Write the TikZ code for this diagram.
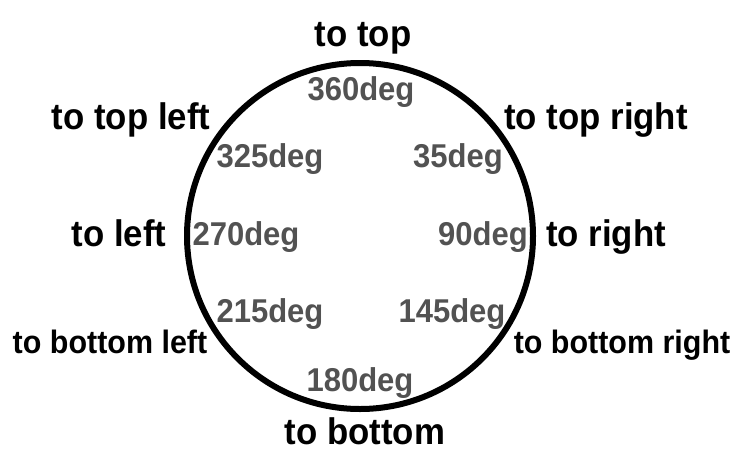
\documentclass[tikz,border=0pt]{standalone}
\usepackage{fontspec}
\setmainfont[FakeStretch=0.94]{Liberation Sans}
\usepackage{xcolor}
\usepackage{tikz}
\usetikzlibrary{positioning}
\definecolor{degText}{HTML}{525252}

\begin{document}
\begin{tikzpicture}[x=1pt, y=-1pt,
    dir/.style={anchor=base, inner sep=0pt, text=black,
                font=\fontsize{37}{37}\selectfont\bfseries},
    dirsmall/.style={dir, font=\fontsize{32.4}{32.4}\selectfont\bfseries},
    deg/.style={anchor=base, inner sep=0pt, text=degText,
                font=\fontsize{33}{33}\selectfont\bfseries}]
  \useasboundingbox (0,0) rectangle (744,469);
  \node[draw, circle, line width=6pt, minimum size=346pt, inner sep=0pt] (ring) at (360,236) {};
  % directions
  \node[dir] (top) at (363,46) {to top};
  \node[dir] (topleft) at (131,129) {to top left};
  \node[dir] (topright) at (596,129) {to top right};
  \node[dir] (left) at (119,246) {to left};
  \node[dir] (right) at (606,246) {to right};
  \node[dirsmall] (bottomleft) at (110,353) {to bottom left};
  \node[dirsmall] (bottomright) at (622,353) {to bottom right};
  \node[dir] (bottom) at (365,444) {to bottom};
  % angles
  \foreach \a/\x/\y in {360/361/100, 325/270/167, 35/458/167, 270/246/245,
                        90/483/245, 215/270/322, 145/452/322, 180/360/391}
    { \node[deg] (d\a) at (\x,\y) {\a deg}; }
\end{tikzpicture}
\end{document}
